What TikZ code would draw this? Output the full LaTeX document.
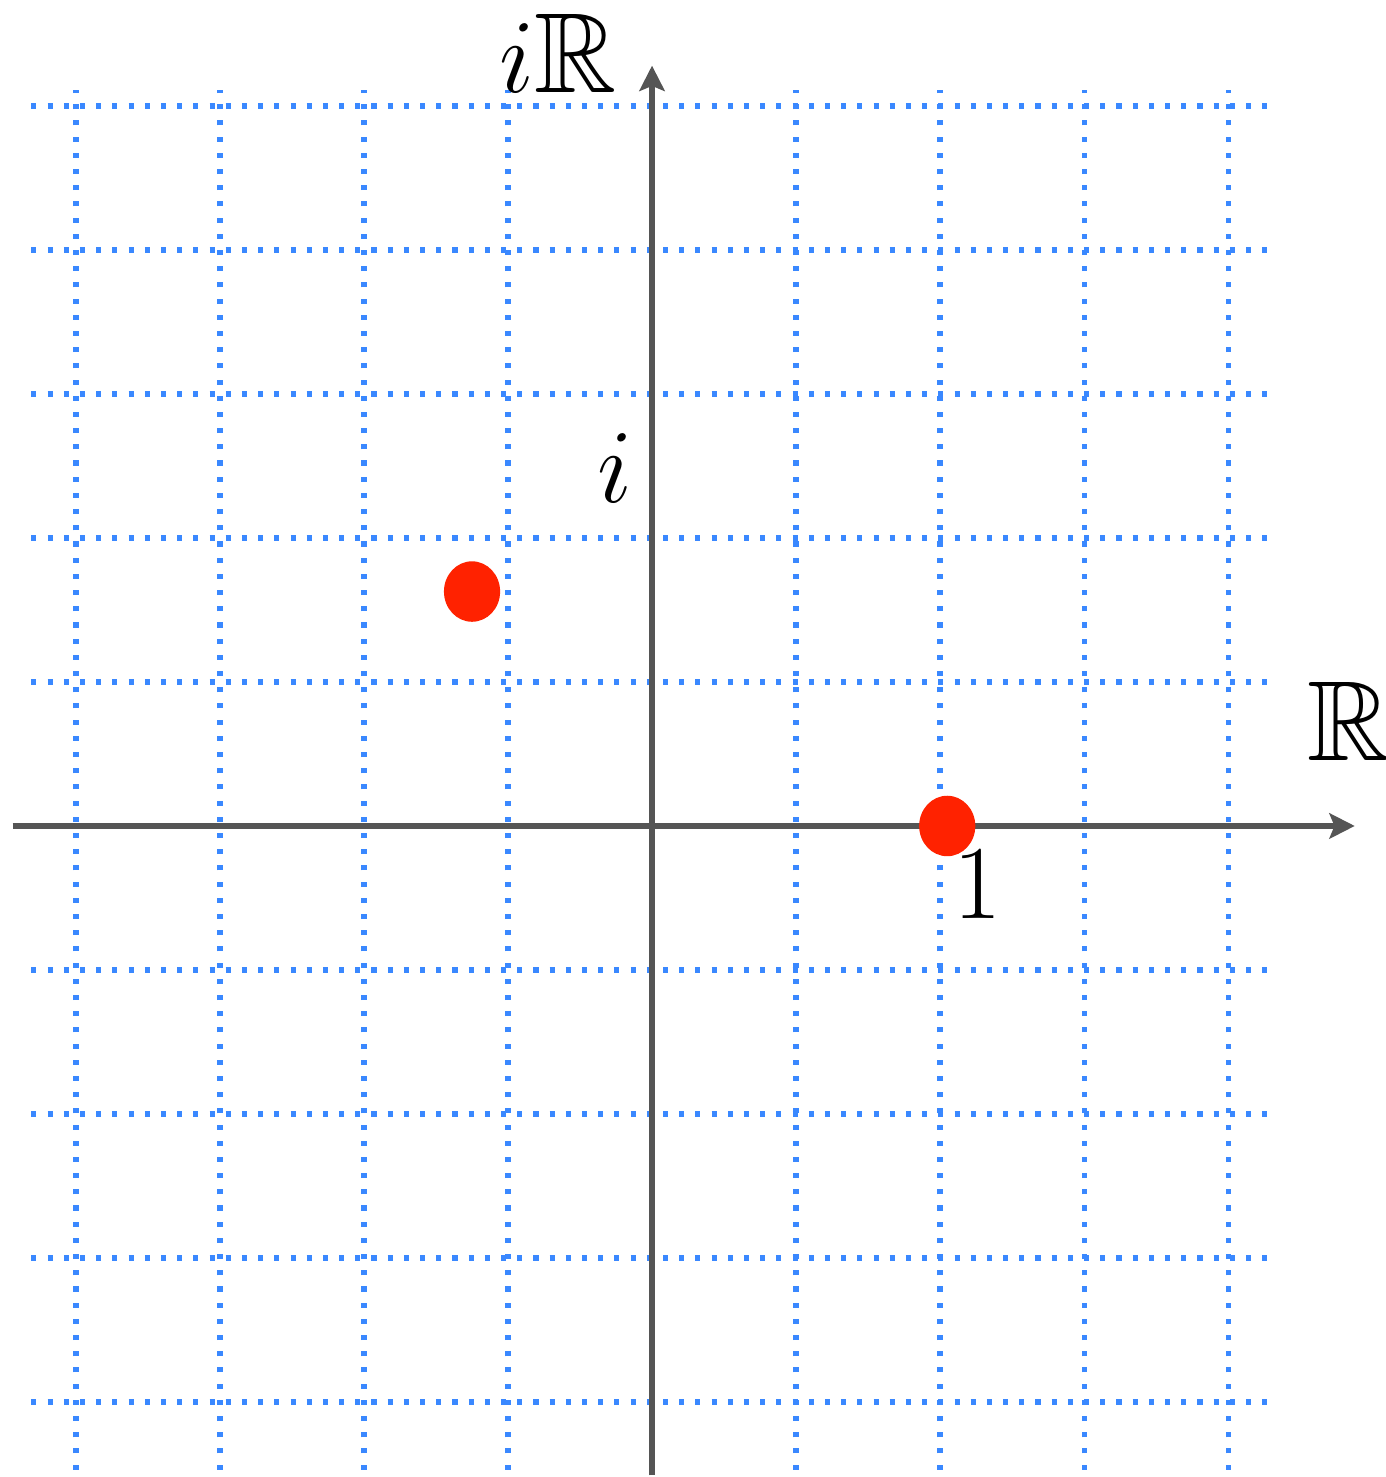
\documentclass[tikz,border=0pt]{standalone}
\usepackage{amssymb}
\usepackage{xcolor}
\usetikzlibrary{arrows.meta,shapes.geometric}
\definecolor{gridblue}{HTML}{3A88FF}
\definecolor{axisgray}{HTML}{555555}
\definecolor{pointred}{HTML}{FF2200}

\tikzset{
  gridline/.style={gridblue, line width=1pt, dash pattern=on 1pt off 2.2pt},
  axisline/.style={axisgray, line width=1pt, -{Stealth[length=5pt,width=5pt,inset=1pt]}},
  reddot/.style={ellipse, fill=pointred, inner sep=0pt, minimum width=0.39cm, minimum height=0.42cm},
  biglabel/.style={anchor=base, inner sep=0pt, font=\fontsize{22.5}{27}\selectfont}
}

\begin{document}
\begin{tikzpicture}
    \useasboundingbox (-4.528,-4.521) rectangle (5.097,5.736);

    % Dotted grid
    \foreach \x in {-4,-3,-2,-1,1,2,3,4}
        \draw[gridline] (\x,-4.47) -- (\x,5.11);
    \foreach \y in {-4,-3,-2,-1,1,2,3,4,5}
        \draw[gridline] (-4.31,\y) -- (4.29,\y);

    % Axes
    \coordinate (west) at (-4.44,0);
    \coordinate (east) at (4.88,0);
    \coordinate (south) at (0,-4.51);
    \coordinate (north) at (0,5.28);
    \draw[axisline] (west) -- (east);
    \draw[axisline] (south) -- (north);

    % Axis labels
    \node[biglabel] (reals) at (4.84,0.458) {$\mathbb{R}$};
    \node[biglabel] (imags) at (-0.649,5.097) {$i\mathbb{R}$};
    \node[biglabel] (unit) at (-0.257,2.243) {$i$};

    % Points
    \node[reddot] (one) at (2.05,0) {};
    \node[reddot] (zeta) at (-1.25,1.628) {};
    \node[biglabel] (onelabel) at (2.264,-0.639) {$1$};
\end{tikzpicture}
\end{document}
